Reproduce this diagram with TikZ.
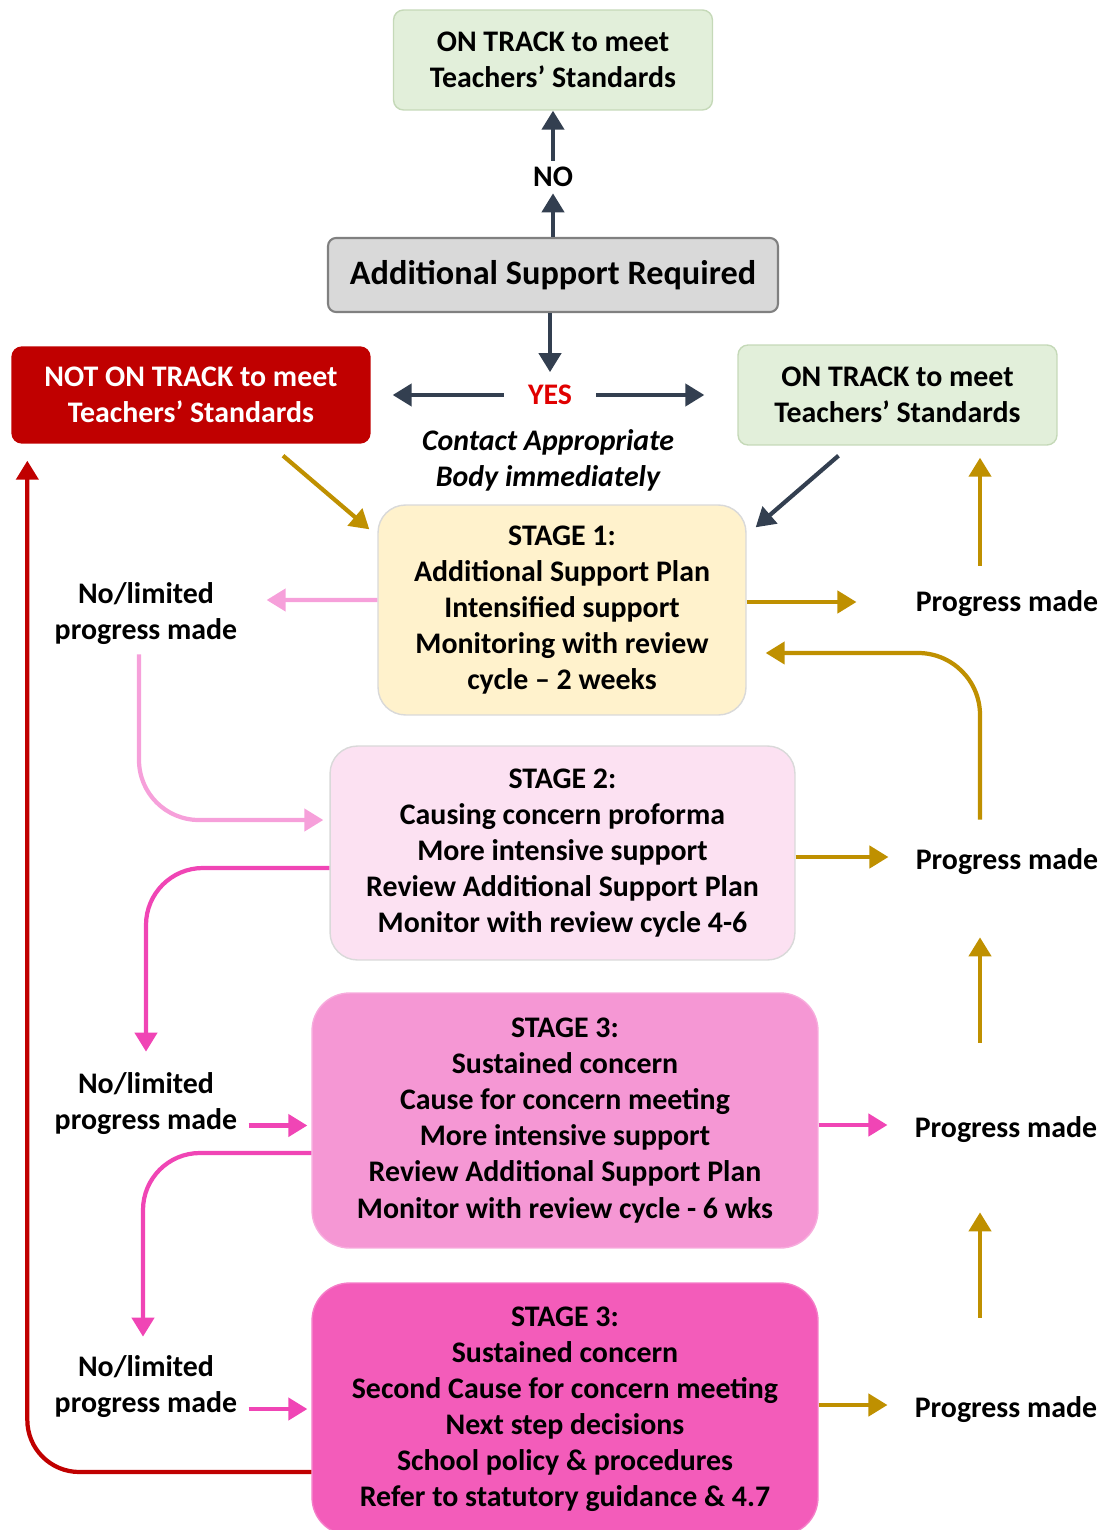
\documentclass[tikz,border=0pt]{standalone}
\usepackage{fontspec}
\setmainfont{Carlito}
\usetikzlibrary{arrows.meta,calc}

\definecolor{trackgreen}{HTML}{E2EFDA}
\definecolor{trackline}{HTML}{C5D9B8}
\definecolor{asrgray}{HTML}{D9D9D9}
\definecolor{notred}{HTML}{C00000}
\definecolor{stageone}{HTML}{FFF2CC}
\definecolor{stagetwo}{HTML}{FCE1F2}
\definecolor{stagethree}{HTML}{F597D4}
\definecolor{stagefour}{HTML}{F35CBA}
\definecolor{softpink}{HTML}{F6A0DA}
\definecolor{hotpink}{HTML}{F045B5}
\definecolor{gold}{HTML}{BF9000}
\definecolor{slate}{HTML}{333F50}
\definecolor{yesred}{HTML}{E00000}

\begin{document}
\begin{tikzpicture}[x=0.02cm,y=-0.02cm,font=\bfseries\fontsize{17}{20.5}\selectfont,
  box/.style={draw=trackline,line width=0.8pt,rounded corners=0.2cm,align=center,inner sep=0pt},
  stagebox/.style={box,draw=asrgray,rounded corners=0.55cm},
  label/.style={align=center,inner sep=0pt},
  arr/.style={line width=2.4pt,-{Triangle[length=0.38cm,width=0.44cm]}}]
\useasboundingbox (0,0) rectangle (1104,1530);

%Top
\node[box,fill=trackgreen,minimum width=6.38cm,minimum height=2cm] (tracktop) at (553,60) {ON TRACK to meet\\Teachers’ Standards};
\node[label,minimum height=0.64cm] (no) at (553,177) {NO};
\node[box,draw=gray,fill=asrgray,line width=1.2pt,rounded corners=0.16cm,minimum width=9cm,minimum height=1.48cm,font=\bfseries\fontsize{19.5}{23}\selectfont] (asr) at (553,275) {Additional Support Required};

\draw[arr,slate] (asr.north) -- (no.south);
\draw[arr,slate] (no.north) -- (tracktop.south);

%Yes
\node[label,text=yesred,minimum width=1.84cm,minimum height=0.9cm] (yes) at (550,395) {YES};
\node[box,draw=notred,fill=notred,text=white,minimum width=7.16cm,minimum height=1.92cm] (nottrack) at (191,395) {NOT ON TRACK to meet\\Teachers’ Standards};
\node[box,fill=trackgreen,minimum width=6.38cm,minimum height=2cm] (trackright) at (897.5,395) {ON TRACK to meet\\Teachers’ Standards};
\node[label,font=\bfseries\itshape\fontsize{17}{20.5}\selectfont] (contact) at (548,460) {Contact Appropriate\\Body immediately};

\draw[arr,slate] (asr.south -| yes) -- (yes.north);
\draw[arr,slate,shorten >=0.44cm] (yes.west) -- (nottrack.east);
\draw[arr,slate,shorten >=0.66cm] (yes.east) -- (trackright.west);

%Stages
\node[stagebox,fill=stageone,minimum width=7.36cm,minimum height=4.2cm] (stage1) at (562,610)
  {STAGE 1:\\Additional Support Plan\\Intensified support\\Monitoring with review\\cycle -- 2 weeks};
\node[stagebox,fill=stagetwo,minimum width=9.3cm,minimum height=4.28cm] (stage2) at (562.5,853)
  {STAGE 2:\\Causing concern proforma\\More intensive support\\Review Additional Support Plan\\Monitor with review cycle 4-6};
\node[stagebox,fill=stagethree,draw=stagethree!80!white,rounded corners=0.75cm,minimum width=10.12cm,minimum height=5.1cm] (stage3) at (565,1120.5)
  {STAGE 3:\\Sustained concern\\Cause for concern meeting\\More intensive support\\Review Additional Support Plan\\Monitor with review cycle - 6 wks};
\node[stagebox,fill=stagefour,draw=stagefour!80!white,rounded corners=0.75cm,minimum width=10.12cm,minimum height=5.04cm] (stage4) at (565,1409)
  {STAGE 3:\\Sustained concern\\Second Cause for concern meeting\\Next step decisions\\School policy \& procedures\\Refer to statutory guidance \& 4.7};

%Side labels
\node[label,minimum height=1.6cm] (nolim1) at (146,614) {No/limited\\progress made};
\node[label,minimum height=1.6cm] (nolim2) at (146,1104) {No/limited\\progress made};
\node[label,minimum height=1.6cm] (nolim3) at (146,1387) {No/limited\\progress made};
\node[label,minimum height=1cm] (progress1) at (1007,604) {Progress made};
\node[label,minimum height=1cm] (progress2) at (1007,862) {Progress made};
\node[label,minimum height=1cm] (progress3) at (1006,1130) {Progress made};
\node[label,minimum height=1cm] (progress4) at (1006,1410) {Progress made};
\coordinate (upx) at (980,0);

%Into stage 1
\draw[arr,gold] ($(nottrack.south)+(92,12)$) -- ($(stage1.north west)+(-8,25)$);
\draw[arr,slate] ($(trackright.south)+(-59,10)$) -- ($(stage1.north east)+(9,23)$);

%Progress made
\draw[arr,gold,shorten >=1.18cm] ([yshift=0.04cm]stage1.east |- progress1) -- ([yshift=0.04cm]progress1.west);
\draw[arr,gold,shorten >=0.54cm] ([yshift=0.1cm]stage2.east |- progress2) -- ([yshift=0.1cm]progress2.west);
\draw[arr,hotpink,shorten >=0.54cm] ([yshift=0.1cm]stage3.east |- progress3) -- ([yshift=0.1cm]progress3.west);
\draw[arr,gold,shorten >=0.54cm] ([yshift=0.1cm]stage4.east |- progress4) -- ([yshift=0.1cm]progress4.west);

\draw[arr,gold,shorten <=0.26cm,shorten >=0.24cm] (progress1.north -| upx) -- (trackright.south -| upx);
\draw[arr,gold,shorten <=0.34cm,rounded corners=1.24cm] (progress2.north -| upx) |- ([xshift=0.38cm,yshift=-0.86cm]stage1.east);
\draw[arr,gold,shorten <=1.24cm,shorten >=1cm] (progress3.north -| upx) -- (progress2.south -| upx);
\draw[arr,gold,shorten <=1.34cm,shorten >=1.14cm] (progress4.north -| upx) -- (progress3.south -| upx);

%No/limited progress made
\draw[arr,softpink,shorten >=0.58cm] ([yshift=0.2cm]stage1.west) -- ([yshift=0.28cm]nolim1.east);
\draw[arr,softpink,rounded corners=1.2cm,shorten >=0.12cm] ([xshift=-0.14cm]nolim1.south) |- ([yshift=0.66cm]stage2.west);
\draw[arr,hotpink,rounded corners=1.14cm,shorten >=0.24cm] ([yshift=-0.3cm]stage2.west) -| (nolim2.north);
\draw[arr,hotpink,shorten <=0.22cm,shorten >=0.08cm] ([yshift=-0.1cm]nolim2.east |- stage3.west) -- ([yshift=-0.1cm]stage3.west);
\draw[arr,hotpink,rounded corners=1.14cm,shorten >=0.2cm] ([yshift=-0.65cm]stage3.west) -| ([xshift=-0.06cm]nolim3.north);
\draw[arr,hotpink,shorten <=0.22cm,shorten >=0.08cm] (nolim3.east |- stage4.west) -- (stage4.west);

%Back to not on track
\draw[arr,notred,rounded corners=1.04cm,shorten >=0.34cm] ([yshift=-1.26cm]stage4.west) -| ([xshift=0.32cm]nottrack.south west);

\end{tikzpicture}
\end{document}
